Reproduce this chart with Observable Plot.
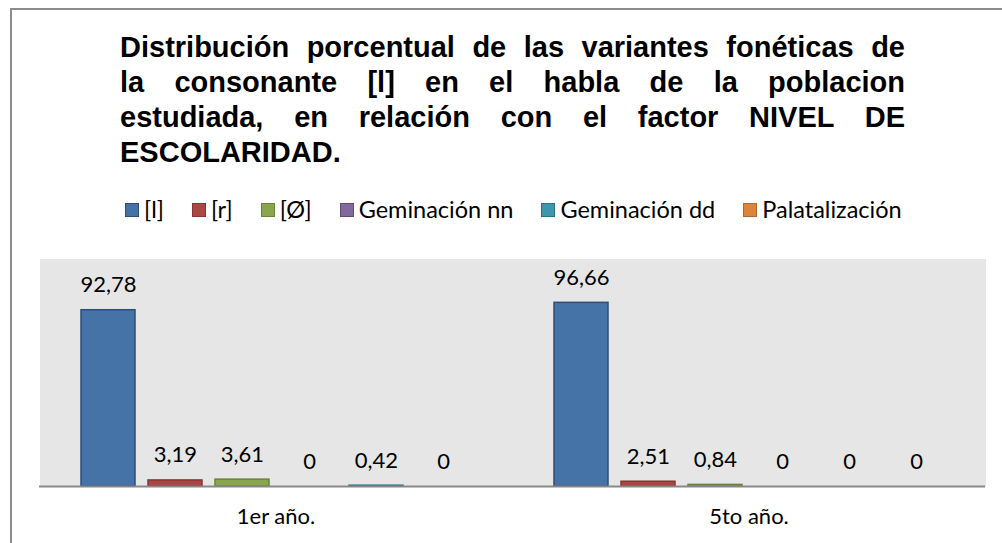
<!DOCTYPE html>
<html>
<head>
<meta charset="utf-8">
<script src="https://cdn.jsdelivr.net/npm/d3@7"></script>
<script src="https://cdn.jsdelivr.net/npm/@observablehq/plot@0.6"></script>
<style>
  html, body { margin: 0; padding: 0; background: #fff; }
  #wrap { position: relative; width: 1002px; height: 543px; overflow: hidden; background: #fff; }
  #border { position: absolute; left: 10px; top: 8px; width: 1100px; height: 700px;
            border-left: 2px solid #8c8c8c; border-top: 2px solid #8c8c8c; }
  #title { position: absolute; left: 120px; top: 30px; width: 785px;
           font-family: "Liberation Sans", Arial, sans-serif; font-weight: bold; font-size: 29px;
           line-height: 35px; color: #000; }
  #title .j { text-align: justify; text-align-last: justify; white-space: nowrap; }
  #legend { position: absolute; left: 125px; top: 196px; display: flex; align-items: center; gap: 28px;
            font-family: Lato, "Open Sans", sans-serif; font-size: 23.5px; line-height: 27px; color: #000; white-space: nowrap; }
  #legend .item { display: flex; align-items: center; }
  #legend .sw { width: 12px; height: 12px; margin-right: 5px; border: 1px solid; }
  #chart { position: absolute; left: 0; top: 240px; }
</style>
</head>
<body>
<div id="wrap">
  <div id="border"></div>
  <div id="title"></div>
  <div id="legend"></div>
  <div id="chart"></div>
</div>
<script>
const titleLines = [
  "Distribución porcentual de las variantes fonéticas de",
  "la consonante [l] en el habla de la poblacion",
  "estudiada, en relación con el factor NIVEL DE",
  "ESCOLARIDAD."
];
const categories = ["1er año.", "5to año."];
const series = ["[l]", "[r]", "[Ø]", "Geminación nn", "Geminación dd", "Palatalización"];
const values1er = [92.78, 3.19, 3.61, 0, 0.42, 0];
const values5to = [96.66, 2.51, 0.84, 0, 0, 0];
const fills = ["#4572A7", "#AA4643", "#89A54E", "#80699B", "#3D96AE", "#DB843D"];
const strokes = ["#2E4E78", "#8A3431", "#6B823A", "#5F4C78", "#2B7286", "#B0672C"];

// Title
const t = document.getElementById("title");
titleLines.forEach((line, i) => {
  const d = document.createElement("div");
  if (i < titleLines.length - 1) d.className = "j";
  d.textContent = line;
  t.appendChild(d);
});

// Legend
const lg = document.getElementById("legend");
series.forEach((s, i) => {
  const it = document.createElement("div");
  it.className = "item";
  const sw = document.createElement("span");
  sw.className = "sw";
  sw.style.background = fills[i];
  sw.style.borderColor = strokes[i];
  const tx = document.createElement("span");
  tx.textContent = s;
  it.appendChild(sw); it.appendChild(tx);
  lg.appendChild(it);
});

// Data table
const data = [];
series.forEach((s, i) => {
  data.push({cat: categories[0], series: s, value: values1er[i]});
});
series.forEach((s, i) => {
  data.push({cat: categories[1], series: s, value: values5to[i]});
});

const loc = d3.formatLocale({decimal: ",", thousands: ".", grouping: [3], currency: ["", ""]});
const f2 = loc.format(".2f");
const fmt = v => v === 0 ? "0" : f2(v);

const strokeOf = new Map(series.map((s, i) => [s, strokes[i]]));

const chart = Plot.plot({
  width: 1002,
  height: 303,
  marginLeft: 38,
  marginRight: 17,
  marginTop: 18,
  marginBottom: 57,
  style: {fontFamily: "Lato, 'Open Sans', sans-serif", fontSize: "22px", color: "#000", background: "transparent"},
  fx: {domain: categories, padding: 0, label: null, axis: "bottom", tickSize: 0, tickPadding: 22},
  x: {domain: series, paddingInner: 0.1876, paddingOuter: 0.59, axis: null},
  y: {domain: [0, 120], axis: null},
  color: {domain: series, range: fills},
  marks: [
    Plot.frame({fill: "#e6e6e6", stroke: "none", shapeRendering: "crispEdges"}),
    Plot.barY(data, {fx: "cat", x: "series", y: "value", fill: "series",
      stroke: d => strokeOf.get(d.series), strokeWidth: 1.5}),
    Plot.text(data, {fx: "cat", x: "series", y: "value", text: d => fmt(d.value),
      dy: -25, fontSize: 22, fill: "#000"}),
    Plot.ruleY([0], {stroke: "#888888", strokeWidth: 2})
  ]
});
document.getElementById("chart").appendChild(chart);
</script>
</body>
</html>
